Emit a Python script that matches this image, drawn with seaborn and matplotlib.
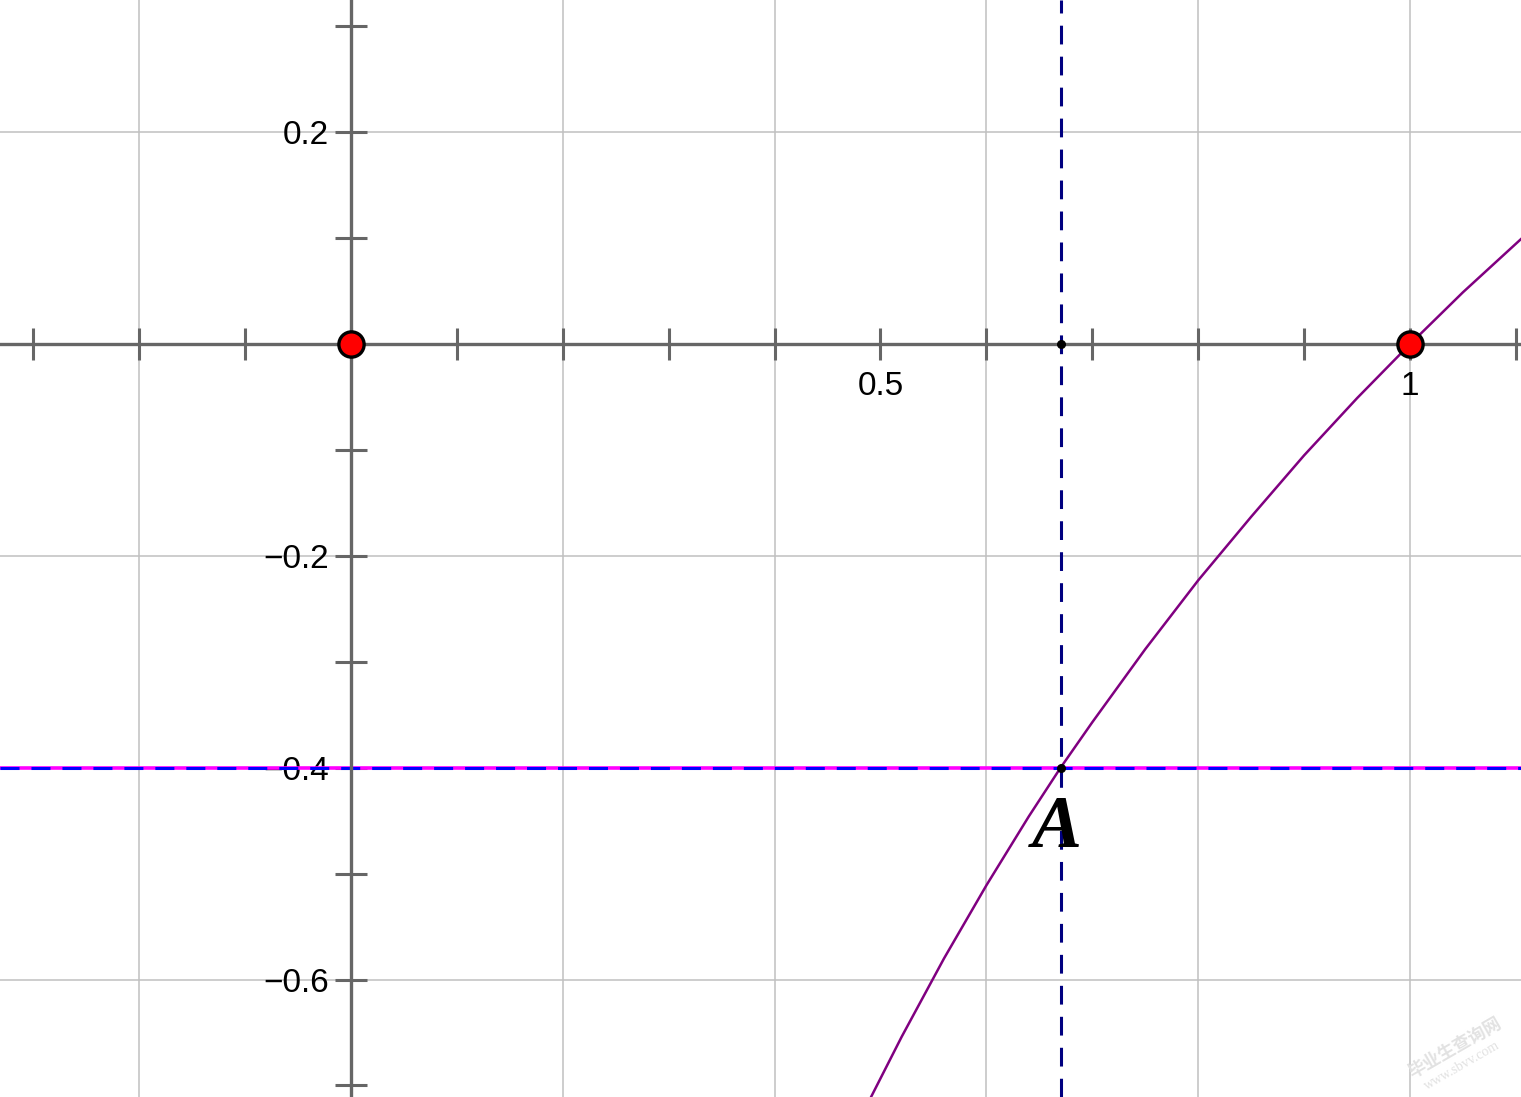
"""
Plot of y = ln x near its root, with the point A where y = -0.4
"""
import numpy as np
import matplotlib
matplotlib.use('Agg')
import matplotlib.pyplot as plt
import seaborn as sns
import pandas as pd

# curve points
curve_x = [0.49, 0.52, 0.56, 0.60, 0.64, 0.67, 0.70, 0.75, 0.80, 0.85, 0.90, 0.95, 1.00, 1.05, 1.11]
curve_y = [-0.713, -0.654, -0.580, -0.511, -0.446, -0.400, -0.357, -0.288, -0.223, -0.163,
           -0.105, -0.051, 0.0, 0.049, 0.104]

# red points on the x axis
red_x = [0.0, 1.0]
red_y = [0.0, 0.0]

# point A and its foot on the x axis
a_x = 0.67
a_y = -0.4

x_labels = {0.5: '0.5', 1.0: '1'}
y_labels = {0.2: '0.2', -0.2: '\u22120.2', -0.4: '\u22120.4', -0.6: '\u22120.6'}

XLIM = (-0.3314, 1.1048)
YLIM = (-0.7104, 0.3245)

sns.set_style('white')
plt.rcParams['font.family'] = ['Liberation Sans', 'DejaVu Sans']
plt.rcParams['lines.scale_dashes'] = False

fig = plt.figure(figsize=(15.21, 10.97), dpi=100)
ax = fig.add_axes([0, 0, 1, 1])

# ── grid every 0.2 ──────────────────────────
for gx in np.arange(-0.2, 1.01, 0.2):
    ax.axvline(gx, color='#c0c0c0', lw=1.1, zorder=0)
for gy in np.arange(-0.6, 0.21, 0.2):
    ax.axhline(gy, color='#c0c0c0', lw=1.1, zorder=0)

# ── curve ───────────────────────────────────
df = pd.DataFrame({'x': curve_x, 'y': curve_y})
sns.lineplot(data=df, x='x', y='y', ax=ax, color='#800080', lw=1.8,
             zorder=3, sort=True)

# ── dashed guide lines ──────────────────────
ax.axhline(a_y, color='#ff00ff', lw=2.6, zorder=2)
ax.axhline(a_y, color='#0000ff', lw=2.2, zorder=2.1, dashes=(13.7, 8.6))
ax.axvline(a_x, color='#000080', lw=2.2, zorder=2.1, dashes=(13.5, 8.8))

# ── points ──────────────────────────────────
sns.scatterplot(x=red_x, y=red_y, ax=ax, s=330, color='#ff0000',
                edgecolor='black', linewidth=2.4, zorder=5)
ax.plot([a_x, a_x], [0, a_y], ls='none', marker='o', ms=5.5, color='black', zorder=5)
ax.text(a_x - 0.003, a_y - 0.058, 'A', family=['Liberation Serif', 'DejaVu Serif'],
        style='italic', weight='bold', fontsize=54, ha='center', va='center',
        color='black', zorder=5)

# ── axes through the origin ─────────────────
ax.set_xlim(*XLIM)
ax.set_ylim(*YLIM)
ax.set_aspect('equal', adjustable='box')
ax.set_xlabel('')
ax.set_ylabel('')
for side in ['top', 'right']:
    ax.spines[side].set_visible(False)
for side in ['left', 'bottom']:
    ax.spines[side].set_position(('data', 0))
    ax.spines[side].set_color('#666666')
    ax.spines[side].set_linewidth(2.4)

xt = np.round(np.arange(-0.3, 1.11, 0.1), 1)
yt = np.round(np.arange(-0.7, 0.31, 0.1), 1)
ax.set_xticks(xt)
ax.set_yticks(yt)
ax.set_xticklabels([x_labels.get(v, '') for v in xt])
ax.set_yticklabels([y_labels.get(v, '') for v in yt])
ax.tick_params(axis='both', bottom=True, left=True, direction='inout', length=23, width=2.2,
               color='#666666', labelsize=24, labelcolor='black')
ax.tick_params(axis='x', pad=8)
ax.tick_params(axis='y', pad=4.5)

# ── watermark ───────────────────────────────
fig.text(1455 / 1521, 1 - 1048 / 1097, '毕业生查询网', family=['Noto Sans CJK SC', 'DejaVu Sans'],
         fontsize=12.5, weight='bold', color='#e2e2e2', rotation=30, ha='center', va='center')
fig.text(1462 / 1521, 1 - 1066 / 1097, 'www.sbvv.com', family=['Liberation Serif', 'DejaVu Serif'],
         fontsize=10, color='#e2e2e2', rotation=30, ha='center', va='center')

fig.savefig('out.png', dpi=100, facecolor='white')
